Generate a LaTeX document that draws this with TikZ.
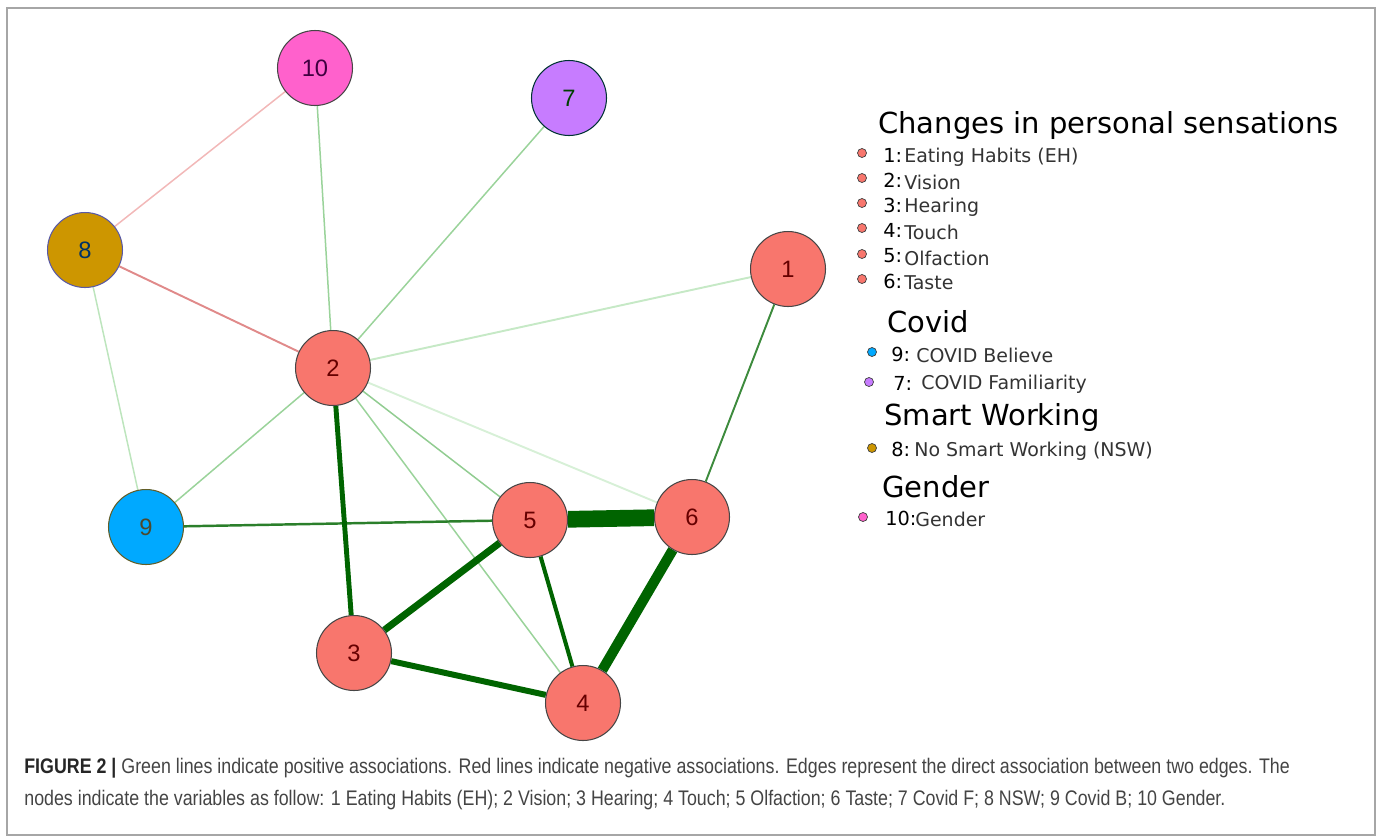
\documentclass[tikz,border=0pt]{standalone}
\usepackage{fontspec}
\setmainfont{Liberation Sans}
\newfontfamily\legfont{DejaVu Sans}
\newfontfamily\capfont[FakeStretch=0.845]{Liberation Sans}
\usetikzlibrary{backgrounds}
\definecolor{salmon}{HTML}{F8766D}
\definecolor{gold}{HTML}{CD9600}
\definecolor{skyb}{HTML}{00A9FF}
\definecolor{lilac}{HTML}{C77CFF}
\definecolor{pinkc}{HTML}{FF61CC}
\definecolor{strong}{HTML}{006400}
\definecolor{midgreen}{HTML}{3D8B3D}
\definecolor{lightgreen}{HTML}{9AD39A}
\definecolor{palegreen}{HTML}{C6E9C6}
\definecolor{negred}{HTML}{E08A8A}
\definecolor{palered}{HTML}{F2B8B8}
\definecolor{captext}{HTML}{444444}
\tikzset{
  vnode/.style={circle,draw=gray!55!black,line width=0.6pt,minimum size=1.5cm,inner sep=0pt,font=\fontsize{13.5}{13.5}\selectfont},
  legtitle/.style={anchor=west,inner sep=0pt,font=\legfont\fontsize{16.5}{16.5}\selectfont},
  legnum/.style={anchor=west,inner sep=0pt,font=\legfont\fontsize{11}{11}\selectfont},
  leglab/.style={anchor=west,inner sep=0pt,text=black!80,font=\legfont\fontsize{10.8}{10.8}\selectfont},
  legdot/.style={circle,draw=gray!50!black,line width=0.4pt,minimum size=0.18cm,inner sep=0pt},
  posedge/.style={draw=lightgreen,line width=0.85pt},
  captline/.style={anchor=west,inner sep=0pt,text=captext,font=\capfont\fontsize{12}{12}\selectfont}
}
\begin{document}
\begin{tikzpicture}[x=0.02cm,y=-0.02cm]
\useasboundingbox (0,0) rectangle (1379,836);
\draw[gray!70,line width=1pt] (7,8) rectangle (1375,835);

% nodes of the network
\node[vnode,fill=salmon,text=red!40!black] (n1) at (788,269) {1};
\node[vnode,fill=salmon,text=red!40!black] (n2) at (333,368) {2};
\node[vnode,fill=salmon,text=red!40!black] (n3) at (354,653) {3};
\node[vnode,fill=salmon,text=red!40!black] (n4) at (583,703) {4};
\node[vnode,fill=salmon,text=red!40!black] (n5) at (530,520) {5};
\node[vnode,fill=salmon,text=red!40!black] (n6) at (692,517) {6};
\node[vnode,fill=lilac,draw=teal!40!black,text=green!25!black] (n7) at (569,98) {7};
\node[vnode,fill=gold,draw=blue!30!gray,text=blue!35!teal!60!black] (n8) at (85,250) {8};
\node[vnode,fill=skyb,draw=olive!60!black,text=olive!40!black] (n9) at (146,527) {9};
\node[vnode,fill=pinkc,text=violet!50!black] (n10) at (315,68) {10};

% edges
\begin{scope}[on background layer]
  \draw[palered,line width=0.85pt] (n10) -- (n8);
  \draw[negred,line width=1.1pt] (n8) -- (n2);
  \draw[posedge] (n10) -- (n2);
  \draw[posedge] (n7) -- (n2);
  \draw[posedge,draw=palegreen!80!lightgreen] (n8) -- (n9);
  \draw[posedge] (n2) -- (n9);
  \draw[posedge,draw=palegreen,line width=1.1pt] (n2) -- (n1);
  \draw[posedge,draw=palegreen!70!white,line width=1.1pt] (n2) -- (n6);
  \draw[posedge,draw=lightgreen!90!midgreen] (n2) -- (n5);
  \draw[posedge] (n2) -- (n4);
  \draw[midgreen,line width=1.1pt] (n1) -- (n6);
  \draw[midgreen!70!strong,line width=1.4pt] (n9) -- (n5);
  \draw[strong,line width=2.8pt] (n2) -- (n3);
  \draw[strong,line width=9.5pt] (n5) -- (n6);
  \draw[strong,line width=5.8pt] (n6) -- (n4);
  \draw[strong,line width=4pt] (n3) -- (n5);
  \draw[strong,line width=3.4pt] (n3) -- (n4);
  \draw[strong,line width=2.3pt] (n5) -- (n4);
\end{scope}

% legend
\node[legtitle] (tsens) at (878,125) {Changes in personal sensations};
\foreach \y/\k/\lab in {155/1/Eating Habits (EH),180/2/Vision,205/3/Hearing,230/4/Touch,256/5/Olfaction,281/6/Taste}{
  \node[legdot,fill=salmon] (d\k) at (862,\y-2) {};
  \node[legnum] (k\k) at (883,\y) {\k:};
  \node[leglab] (l\k) at (904,\y+2) {\lab};
}
\node[legtitle] (tcovid) at (887,322) {Covid};
\node[legdot,fill=skyb] (d9) at (872,352) {};
\node[legnum] (k9) at (891,354) {9:};
\node[leglab] (l9) at (916,355) {COVID Believe};
\node[legdot,fill=lilac] (d7) at (869,382) {};
\node[legnum] (k7) at (893,383) {7:};
\node[leglab] (l7) at (921,384) {COVID Familiarity};
\node[legtitle] (tsmart) at (884,417) {Smart Working};
\node[legdot,fill=gold] (d8) at (872,448) {};
\node[legnum] (k8) at (891,449) {8:};
\node[leglab] (l8) at (914,451) {No Smart Working (NSW)};
\node[legtitle] (tgender) at (882,487) {Gender};
\node[legdot,fill=pinkc] (d10) at (863,517) {};
\node[legnum] (k10) at (885,518) {10:};
\node[leglab] (l10) at (915,519) {Gender};

% caption
\node[captline] (cap1) at (24,768)
  {\textbf{\color{black!85}FIGURE 2 |} Green lines indicate positive associations. Red lines indicate negative associations. Edges represent the direct association between two edges. The};
\node[captline] (cap2) at (24,800)
  {nodes indicate the variables as follow: 1 Eating Habits (EH); 2 Vision; 3 Hearing; 4 Touch; 5 Olfaction; 6 Taste; 7 Covid F; 8 NSW; 9 Covid B; 10 Gender.};
\end{tikzpicture}
\end{document}
